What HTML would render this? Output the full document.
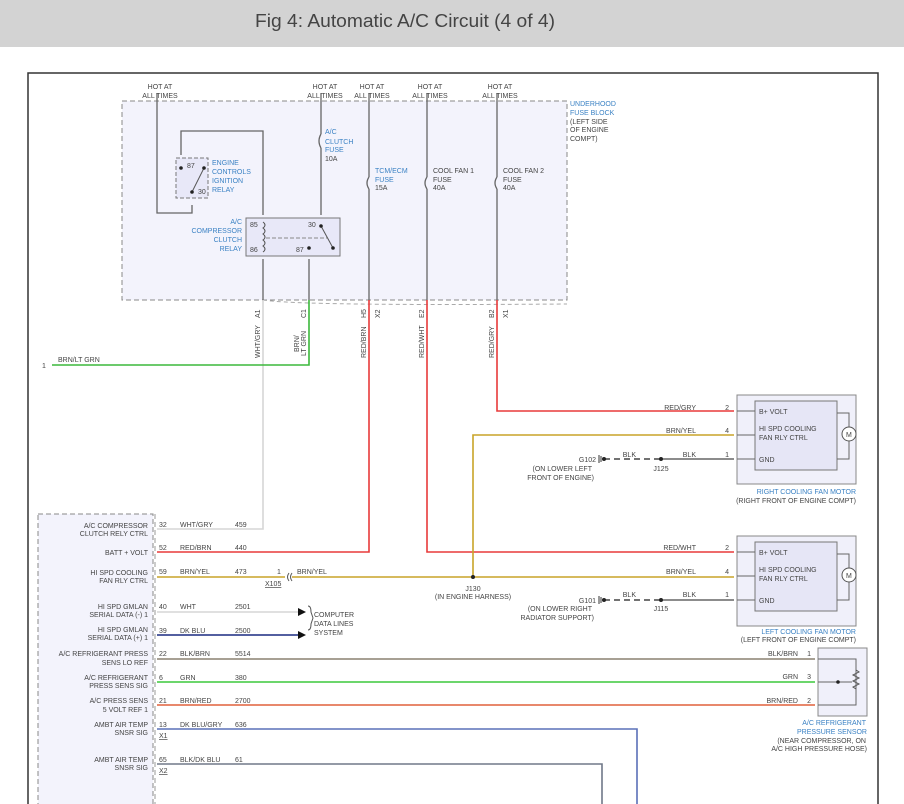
<!DOCTYPE html>
<html><head><meta charset="utf-8"><style>
html,body{margin:0;padding:0;background:#fff;width:904px;height:804px;overflow:hidden}
svg text{font-family:"Liberation Sans",sans-serif;font-size:7px;fill:#444}
.b{fill:#3b82c4}
</style></head><body>
<svg width="904" height="804" viewBox="0 0 904 804" xmlns="http://www.w3.org/2000/svg">
<rect x="0" y="0" width="904" height="47" fill="#d3d3d3"/>
<text x="405" y="27" text-anchor="middle" style="font-size:18px;fill:#444" textLength="300" lengthAdjust="spacingAndGlyphs">Fig 4: Automatic A/C Circuit (4 of 4)</text>
<path d="M28 804V73H878V804" fill="none" stroke="#333" stroke-width="1.5"/>
<!-- fuse block -->
<rect x="122" y="101" width="445" height="199" fill="#f3f3fc" stroke="#888" stroke-dasharray="5,3"/>
<path d="M263 300Q300 306 567 304" fill="none" stroke="#aaa" stroke-dasharray="4,3"/>
<g stroke="#666" fill="none" stroke-width="1.3">
<path d="M157 93V213H192V205"/>
<path d="M181 155V131H263V215"/>
<path d="M321 93V134M321 148V215"/>
<path d="M369 93V177M369 189V300"/>
<path d="M427 93V177M427 189V300"/>
<path d="M497 93V177M497 189V300"/>
<path d="M263 259V300M309 259V300"/>
<path d="M321 134q-4 7 0 14M369 177q-4 6 0 12M427 177q-4 6 0 12M497 177q-4 6 0 12"/>
</g>
<rect x="176" y="158" width="32" height="40" fill="#e8e8f8" stroke="#777" stroke-dasharray="4,2"/>
<path d="M181 166l0 0M192 192L204 168" stroke="#555"/>
<circle cx="181" cy="168" r="1.8" fill="#222"/><circle cx="192" cy="192" r="1.8" fill="#222"/><circle cx="204" cy="168" r="1.8" fill="#222"/>
<text x="187" y="168">87</text><text x="198" y="194">30</text>
<text x="212" y="165" class="b">ENGINE</text><text x="212" y="174" class="b">CONTROLS</text><text x="212" y="183" class="b">IGNITION</text><text x="212" y="192" class="b">RELAY</text>
<rect x="246" y="218" width="94" height="38" fill="#e8e8f8" stroke="#777"/>
<path d="M263 222q4 3 0 6q4 3 0 6q4 3 0 6q4 3 0 6q4 3 0 6" stroke="#555" fill="none"/>
<path d="M266 238H327" stroke="#888" stroke-dasharray="4,2"/>
<path d="M321 226L333 248" stroke="#555"/>
<circle cx="321" cy="226" r="1.8" fill="#222"/><circle cx="333" cy="248" r="1.8" fill="#222"/><circle cx="309" cy="248" r="1.8" fill="#222"/>
<text x="250" y="227">85</text><text x="250" y="252">86</text><text x="308" y="227">30</text><text x="296" y="252">87</text>
<text x="242" y="224" class="b" text-anchor="end">A/C</text><text x="242" y="233" class="b" text-anchor="end">COMPRESSOR</text><text x="242" y="242" class="b" text-anchor="end">CLUTCH</text><text x="242" y="251" class="b" text-anchor="end">RELAY</text>
<text x="325" y="134" class="b">A/C</text><text x="325" y="144" class="b">CLUTCH</text><text x="325" y="152" class="b">FUSE</text><text x="325" y="161">10A</text>
<text x="375" y="173" class="b">TCM/ECM</text><text x="375" y="182" class="b">FUSE</text><text x="375" y="190">15A</text>
<text x="433" y="173">COOL FAN 1</text><text x="433" y="182">FUSE</text><text x="433" y="190">40A</text>
<text x="503" y="173">COOL FAN 2</text><text x="503" y="182">FUSE</text><text x="503" y="190">40A</text>
<g text-anchor="middle">
<text x="160" y="89">HOT AT</text><text x="160" y="98">ALL TIMES</text>
<text x="325" y="89">HOT AT</text><text x="325" y="98">ALL TIMES</text>
<text x="372" y="89">HOT AT</text><text x="372" y="98">ALL TIMES</text>
<text x="430" y="89">HOT AT</text><text x="430" y="98">ALL TIMES</text>
<text x="500" y="89">HOT AT</text><text x="500" y="98">ALL TIMES</text>
</g>
<text x="570" y="106" class="b">UNDERHOOD</text><text x="570" y="115" class="b">FUSE BLOCK</text><text x="570" y="124">(LEFT SIDE</text><text x="570" y="132">OF ENGINE</text><text x="570" y="141">COMPT)</text>
<!-- vertical wire labels -->
<g>
<text transform="translate(260,358) rotate(-90)">WHT/GRY</text><text transform="translate(260,318) rotate(-90)">A1</text>
<text transform="translate(299,352) rotate(-90)">BRN/</text><text transform="translate(306,356) rotate(-90)">LT GRN</text><text transform="translate(306,318) rotate(-90)">C1</text>
<text transform="translate(366,358) rotate(-90)">RED/BRN</text><text transform="translate(366,318) rotate(-90)">H5</text><text transform="translate(380,318) rotate(-90)">X2</text>
<text transform="translate(424,358) rotate(-90)">RED/WHT</text><text transform="translate(424,318) rotate(-90)">E2</text>
<text transform="translate(494,358) rotate(-90)">RED/GRY</text><text transform="translate(494,318) rotate(-90)">B2</text><text transform="translate(508,318) rotate(-90)">X1</text>
</g>
<!-- wires -->
<g fill="none" stroke-width="1.6">
<path d="M263 300V529H157" stroke="#d6d6d6"/>
<path d="M309 300V365H52" stroke="#3cb83c"/>
<path d="M369 300V552H157" stroke="#e83a3a"/>
<path d="M427 300V552H734" stroke="#e83a3a"/>
<path d="M497 300V411H734" stroke="#e83a3a"/>
<path d="M157 577H285M292 577H734M473 577V435H734" stroke="#c8a428"/>
<path d="M157 612H298" stroke="#d6d6d6"/>
<path d="M157 635H298" stroke="#1a2a80"/>
<path d="M157 659H815" stroke="#8a8070"/>
<path d="M157 682H815" stroke="#3cc83c"/>
<path d="M157 705H815" stroke="#e0603c"/>
<path d="M157 729H637V804" stroke="#5a70b8"/>
<path d="M157 764H602V804" stroke="#707888"/>
<path d="M661 459H734M661 600H734" stroke="#666"/>
<path d="M604 459H661M604 600H661" stroke="#444" stroke-dasharray="6,4"/>
</g>
<circle cx="473" cy="577" r="2" fill="#222"/><circle cx="661" cy="459" r="2" fill="#222"/><circle cx="661" cy="600" r="2" fill="#222"/>
<circle cx="604" cy="459" r="2" fill="#222"/><circle cx="604" cy="600" r="2" fill="#222"/>
<path d="M599 455v8M601 456v6M599 596v8M601 597v6" stroke="#333"/>
<path d="M298 608l8 4-8 4zM298 631l8 4-8 4z" fill="#111"/>
<path d="M308 606q3 0 3 6l2 6-2 6q0 6-3 6" stroke="#555" fill="none"/>
<path d="M289 573q-3 4 0 8M292 573q-3 4 0 8" stroke="#555" fill="none"/>
<text x="42" y="368">1</text><text x="58" y="362">BRN/LT GRN</text>
<!-- left module -->
<rect x="38" y="514" width="115" height="300" fill="#f3f3fc" stroke="#888" stroke-dasharray="5,3"/>
<path d="M155 514V804" stroke="#999" stroke-dasharray="5,3"/>
<g text-anchor="end">
<text x="148" y="528">A/C COMPRESSOR</text><text x="148" y="536">CLUTCH RELY CTRL</text>
<text x="148" y="555">BATT + VOLT</text>
<text x="148" y="575">HI SPD COOLING</text><text x="148" y="583">FAN RLY CTRL</text>
<text x="148" y="609">HI SPD GMLAN</text><text x="148" y="617">SERIAL DATA (-) 1</text>
<text x="148" y="632">HI SPD GMLAN</text><text x="148" y="640">SERIAL DATA (+) 1</text>
<text x="148" y="656">A/C REFRIGERANT PRESS</text><text x="148" y="665">SENS LO REF</text>
<text x="148" y="680">A/C REFRIGERANT</text><text x="148" y="688">PRESS SENS SIG</text>
<text x="148" y="703">A/C PRESS SENS</text><text x="148" y="712">5 VOLT REF 1</text>
<text x="148" y="727">AMBT AIR TEMP</text><text x="148" y="735">SNSR SIG</text>
<text x="148" y="762">AMBT AIR TEMP</text><text x="148" y="770">SNSR SIG</text>
</g>
<g>
<text x="159" y="527">32</text><text x="180" y="527">WHT/GRY</text><text x="235" y="527">459</text>
<text x="159" y="550">52</text><text x="180" y="550">RED/BRN</text><text x="235" y="550">440</text>
<text x="159" y="574">59</text><text x="180" y="574">BRN/YEL</text><text x="235" y="574">473</text><text x="277" y="574">1</text><text x="297" y="574">BRN/YEL</text>
<text x="265" y="586" text-decoration="underline">X105</text>
<text x="159" y="609">40</text><text x="180" y="609">WHT</text><text x="235" y="609">2501</text>
<text x="159" y="633">39</text><text x="180" y="633">DK BLU</text><text x="235" y="633">2500</text>
<text x="314" y="617">COMPUTER</text><text x="314" y="626">DATA LINES</text><text x="314" y="635">SYSTEM</text>
<text x="159" y="656">22</text><text x="180" y="656">BLK/BRN</text><text x="235" y="656">5514</text>
<text x="159" y="680">6</text><text x="180" y="680">GRN</text><text x="235" y="680">380</text>
<text x="159" y="703">21</text><text x="180" y="703">BRN/RED</text><text x="235" y="703">2700</text>
<text x="159" y="727">13</text><text x="180" y="727">DK BLU/GRY</text><text x="235" y="727">636</text>
<text x="159" y="738" text-decoration="underline">X1</text>
<text x="159" y="762">65</text><text x="180" y="762">BLK/DK BLU</text><text x="235" y="762">61</text>
<text x="159" y="773" text-decoration="underline">X2</text>
<text x="473" y="591" text-anchor="middle">J130</text><text x="473" y="599" text-anchor="middle">(IN ENGINE HARNESS)</text>
</g>
<!-- right side labels -->
<g text-anchor="end">
<text x="696" y="410">RED/GRY</text><text x="729" y="410">2</text>
<text x="696" y="433">BRN/YEL</text><text x="729" y="433">4</text>
<text x="696" y="457">BLK</text><text x="729" y="457">1</text><text x="636" y="457">BLK</text>
<text x="596" y="462">G102</text><text x="592" y="471">(ON LOWER LEFT</text><text x="594" y="480">FRONT OF ENGINE)</text>
<text x="696" y="550">RED/WHT</text><text x="729" y="550">2</text>
<text x="696" y="574">BRN/YEL</text><text x="729" y="574">4</text>
<text x="696" y="597">BLK</text><text x="729" y="597">1</text><text x="636" y="597">BLK</text>
<text x="596" y="603">G101</text><text x="592" y="611">(ON LOWER RIGHT</text><text x="594" y="620">RADIATOR SUPPORT)</text>
<text x="798" y="656">BLK/BRN</text><text x="811" y="656">1</text>
<text x="798" y="679">GRN</text><text x="811" y="679">3</text>
<text x="798" y="703">BRN/RED</text><text x="811" y="703">2</text>
<text x="856" y="494" class="b">RIGHT COOLING FAN MOTOR</text><text x="856" y="503">(RIGHT FRONT OF ENGINE COMPT)</text>
<text x="856" y="634" class="b">LEFT COOLING FAN MOTOR</text><text x="856" y="642">(LEFT FRONT OF ENGINE COMPT)</text>
<text x="866" y="725" class="b">A/C REFRIGERANT</text><text x="867" y="734" class="b">PRESSURE SENSOR</text><text x="866" y="743">(NEAR COMPRESSOR, ON</text><text x="867" y="751">A/C HIGH PRESSURE HOSE)</text>
</g>
<text x="661" y="471" text-anchor="middle">J125</text><text x="661" y="611" text-anchor="middle">J115</text>
<!-- motors -->
<g>
<rect x="737" y="395" width="119" height="89" fill="#f0f0fa" stroke="#888"/>
<rect x="755" y="401" width="82" height="69" fill="#e6e6f6" stroke="#777"/>
<path d="M737 411H755M737 435H755M737 459H755M837 413H849V459H837" stroke="#666" fill="none"/>
<circle cx="849" cy="434" r="7" fill="#fff" stroke="#555"/><text x="846" y="437">M</text>
<text x="759" y="414">B+ VOLT</text><text x="759" y="431">HI SPD COOLING</text><text x="759" y="440">FAN RLY CTRL</text><text x="759" y="462">GND</text>
<rect x="737" y="536" width="119" height="90" fill="#f0f0fa" stroke="#888"/>
<rect x="755" y="542" width="82" height="69" fill="#e6e6f6" stroke="#777"/>
<path d="M737 552H755M737 576H755M737 600H755M837 554H849V600H837" stroke="#666" fill="none"/>
<circle cx="849" cy="575" r="7" fill="#fff" stroke="#555"/><text x="846" y="578">M</text>
<text x="759" y="555">B+ VOLT</text><text x="759" y="572">HI SPD COOLING</text><text x="759" y="581">FAN RLY CTRL</text><text x="759" y="603">GND</text>
<rect x="818" y="648" width="49" height="68" fill="#f0f0fa" stroke="#888"/>
<path d="M818 659H856V705H818M818 682H852" stroke="#666" fill="none"/>
<path d="M856 670l3 2-6 3 6 3-6 3 6 3-6 3 3 2" stroke="#555" fill="none"/>
<circle cx="838" cy="682" r="1.8" fill="#222"/>
</g>
</svg>
</body></html>
